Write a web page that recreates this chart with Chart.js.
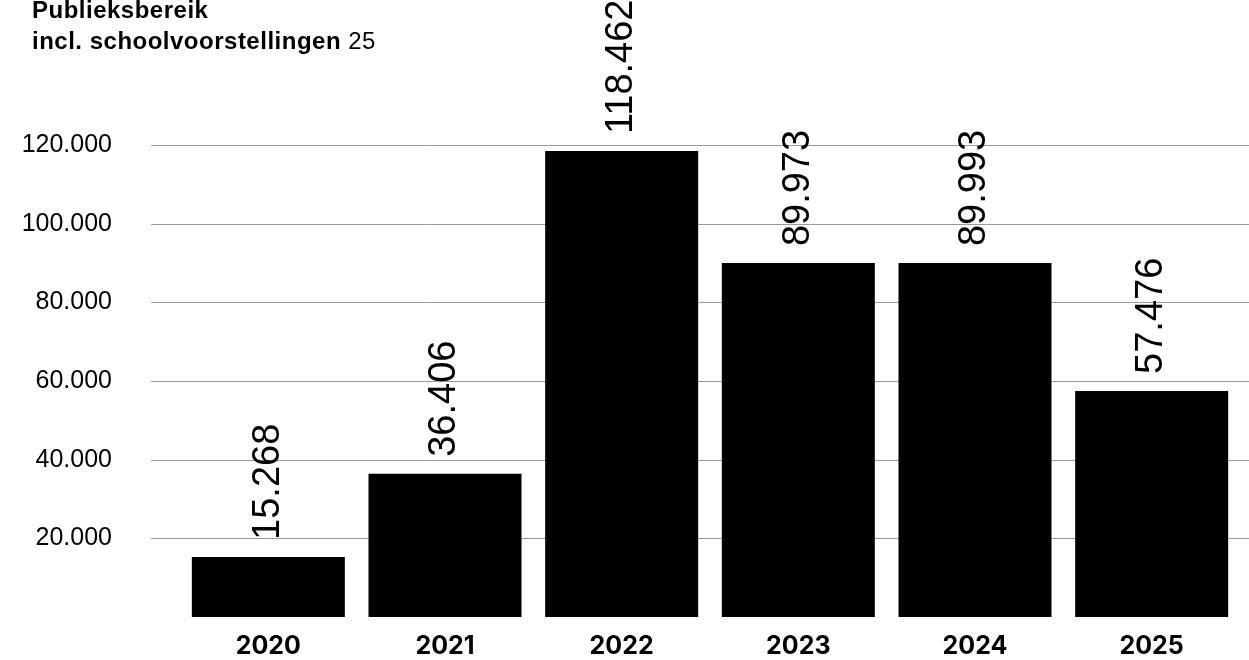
<!DOCTYPE html>
<html lang="nl">
<head>
<meta charset="utf-8">
<title>Publieksbereik</title>
<script src="https://cdn.jsdelivr.net/npm/chart.js@4.4.1/dist/chart.umd.min.js"></script>
<style>
  html, body { margin: 0; padding: 0; background: #fff; }
  #wrap { position: relative; width: 1249px; height: 660px; overflow: hidden; }
  #chart { position: absolute; left: 0; top: 0; width: 1249px; height: 660px; }
  #titel {
    position: absolute; left: 32px; top: -6px;
    font: bold 24px "Liberation Sans", Arial, sans-serif;
    letter-spacing: 0.5px;
    line-height: 31px; color: #000;
  }
  #titel .n { font-weight: normal; }
</style>
</head>
<body>
<div id="wrap">
  <canvas id="chart" width="1249" height="660"></canvas>
  <div id="titel">Publieksbereik<br>incl. schoolvoorstellingen <span class="n">25</span></div>
</div>
<script>
// data
const jaren = ['2020', '2021', '2022', '2023', '2024', '2025'];
const bezoekers = [15268, 36406, 118462, 89973, 89993, 57476];
const yTicks = [20000, 40000, 60000, 80000, 100000, 120000];

const FONT = '"Liberation Sans", Arial, sans-serif';

// 120000 -> "120.000"
function fmt(v) {
  return String(v).replace(/\B(?=(\d{3})+(?!\d))/g, '.');
}

// horizontale lijnen, iets breder dan het plotgebied
const rasterPlugin = {
  id: 'raster',
  beforeDatasetsDraw(chart) {
    const ctx = chart.ctx;
    const y = chart.scales.y;
    ctx.save();
    ctx.strokeStyle = '#9a9a9a';
    ctx.lineWidth = 1;
    yTicks.forEach(v => {
      const py = Math.round(y.getPixelForValue(v)) + 0.5;
      ctx.beginPath();
      ctx.moveTo(151, py);
      ctx.lineTo(chart.width, py);
      ctx.stroke();
    });
    ctx.restore();
  }
};

// verticale waardes boven de staven
const waardePlugin = {
  id: 'waardes',
  afterDatasetsDraw(chart) {
    const ctx = chart.ctx;
    const meta = chart.getDatasetMeta(0);
    ctx.save();
    ctx.fillStyle = '#000';
    ctx.font = '38px ' + FONT;
    ctx.textAlign = 'left';
    ctx.textBaseline = 'middle';
    meta.data.forEach((bar, i) => {
      ctx.save();
      ctx.translate(bar.x, bar.y - 17);
      ctx.rotate(-Math.PI / 2);
      ctx.fillText(fmt(bezoekers[i]), 0, 0);
      ctx.restore();
    });
    ctx.restore();
  }
};

new Chart(document.getElementById('chart'), {
  type: 'bar',
  data: {
    labels: jaren,
    datasets: [{
      data: bezoekers,
      backgroundColor: '#000',
      borderWidth: 0,
      barPercentage: 0.866,
      categoryPercentage: 1
    }]
  },
  options: {
    responsive: false,
    maintainAspectRatio: false,
    animation: false,
    devicePixelRatio: 1,
    layout: { padding: { top: 145, right: 9, left: 0, bottom: 0 } },
    plugins: {
      legend: { display: false },
      tooltip: { enabled: false }
    },
    scales: {
      x: {
        grid: { display: false, drawTicks: false },
        border: { display: false },
        ticks: {
          color: '#000',
          padding: 14,
          font: { family: 'Inter, ' + FONT, size: 25, weight: 'bold' }
        },
        afterFit(scale) { scale.height = 43; }
      },
      y: {
        min: 0,
        max: 120000,
        // tickLength schuift de labels naar links zonder extra padding boven/onder
        grid: { display: false, drawTicks: true, tickLength: 68 },
        border: { display: false },
        afterBuildTicks(scale) {
          scale.ticks = yTicks.map(v => ({ value: v }));
        },
        ticks: {
          color: '#000',
          padding: 0,
          font: { family: FONT, size: 25 },
          callback: v => fmt(v)
        },
        afterFit(scale) { scale.width = 180; }
      }
    }
  },
  plugins: [rasterPlugin, waardePlugin]
});
</script>
</body>
</html>
